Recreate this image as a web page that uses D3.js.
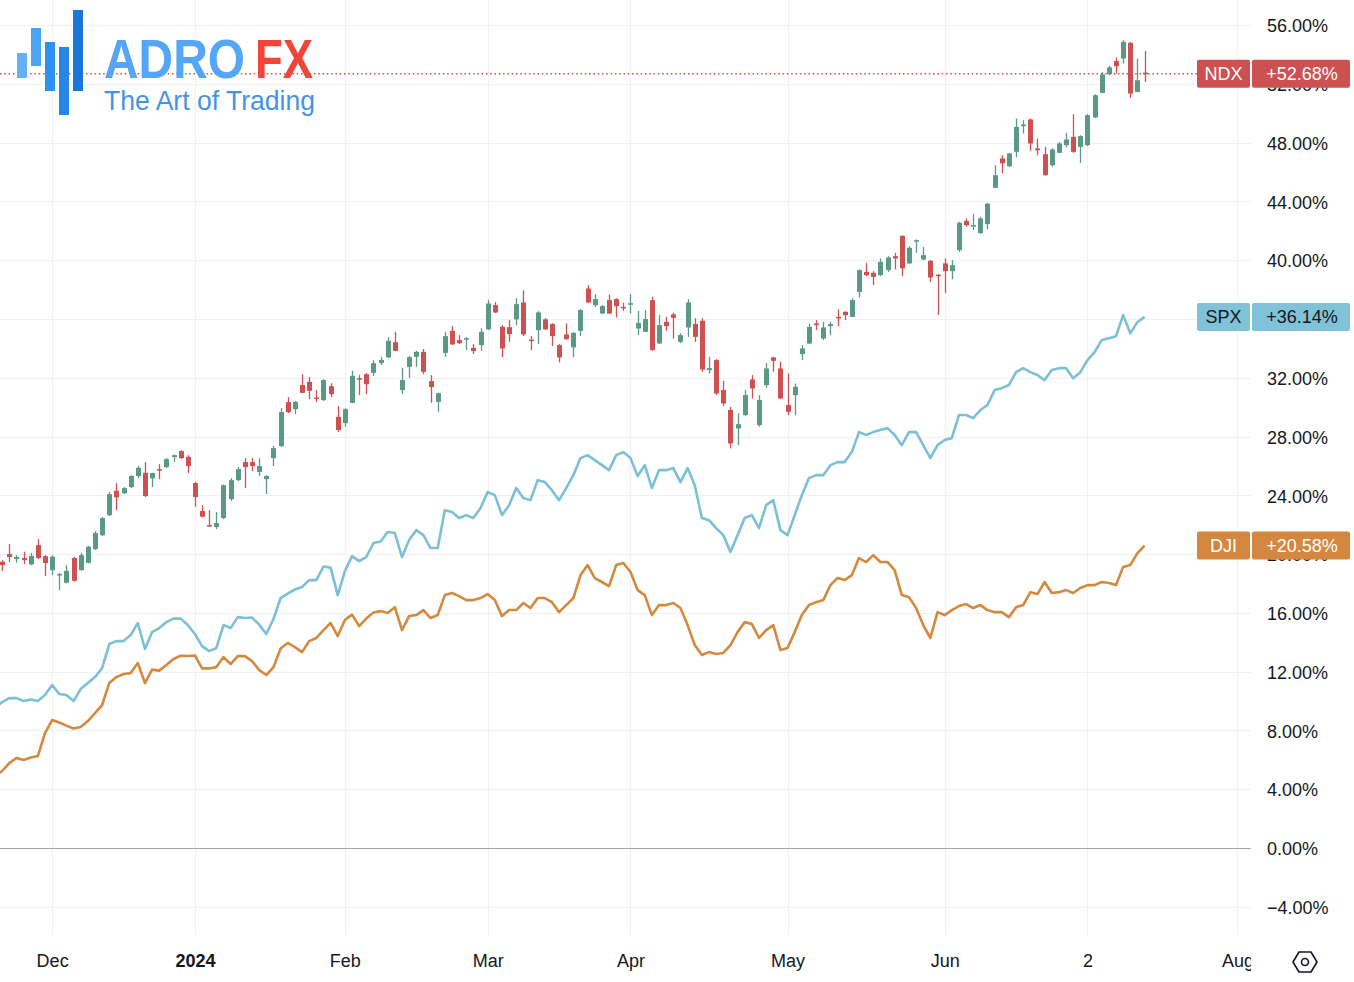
<!DOCTYPE html>
<html>
<head>
<meta charset="utf-8">
<script src="https://cdn.jsdelivr.net/npm/d3@7/dist/d3.min.js"></script>
<style>
  body { margin: 0; background: #fff; }
  svg { display: block; }
  text { font-family: "Liberation Sans", Arial, sans-serif; }
</style>
</head>
<body>
<svg id="chart"></svg>
<script>
// trading days shown on the chart
const dates = [
  "2023-11-20","2023-11-21","2023-11-22","2023-11-24","2023-11-27","2023-11-28","2023-11-29","2023-11-30",
  "2023-12-01","2023-12-04","2023-12-05","2023-12-06","2023-12-07","2023-12-08","2023-12-11","2023-12-12","2023-12-13","2023-12-14",
  "2023-12-15","2023-12-18","2023-12-19","2023-12-20","2023-12-21","2023-12-22","2023-12-26","2023-12-27","2023-12-28","2023-12-29",
  "2024-01-02","2024-01-03","2024-01-04","2024-01-05","2024-01-08","2024-01-09","2024-01-10","2024-01-11","2024-01-12","2024-01-16",
  "2024-01-17","2024-01-18","2024-01-19","2024-01-22","2024-01-23","2024-01-24","2024-01-25","2024-01-26","2024-01-29","2024-01-30","2024-01-31",
  "2024-02-01","2024-02-02","2024-02-05","2024-02-06","2024-02-07","2024-02-08","2024-02-09","2024-02-12","2024-02-13","2024-02-14",
  "2024-02-15","2024-02-16","2024-02-20","2024-02-21","2024-02-22","2024-02-23","2024-02-26","2024-02-27","2024-02-28","2024-02-29",
  "2024-03-01","2024-03-04","2024-03-05","2024-03-06","2024-03-07","2024-03-08","2024-03-11","2024-03-12","2024-03-13","2024-03-14",
  "2024-03-15","2024-03-18","2024-03-19","2024-03-20","2024-03-21","2024-03-22","2024-03-25","2024-03-26","2024-03-27","2024-03-28",
  "2024-04-01","2024-04-02","2024-04-03","2024-04-04","2024-04-05","2024-04-08","2024-04-09","2024-04-10","2024-04-11","2024-04-12",
  "2024-04-15","2024-04-16","2024-04-17","2024-04-18","2024-04-19","2024-04-22","2024-04-23","2024-04-24","2024-04-25","2024-04-26",
  "2024-04-29","2024-04-30",
  "2024-05-01","2024-05-02","2024-05-03","2024-05-06","2024-05-07","2024-05-08","2024-05-09","2024-05-10","2024-05-13","2024-05-14",
  "2024-05-15","2024-05-16","2024-05-17","2024-05-20","2024-05-21","2024-05-22","2024-05-23","2024-05-24","2024-05-28","2024-05-29",
  "2024-05-30","2024-05-31",
  "2024-06-03","2024-06-04","2024-06-05","2024-06-06","2024-06-07","2024-06-10","2024-06-11","2024-06-12","2024-06-13","2024-06-14",
  "2024-06-17","2024-06-18","2024-06-20","2024-06-21","2024-06-24","2024-06-25","2024-06-26","2024-06-27","2024-06-28",
  "2024-07-01","2024-07-02","2024-07-03","2024-07-05","2024-07-08","2024-07-09","2024-07-10","2024-07-11","2024-07-12","2024-07-15"
];
// empty trading days to the right of the last bar
const futureDates = ["2024-07-16","2024-07-17","2024-07-18","2024-07-19","2024-07-22","2024-07-23","2024-07-24",
  "2024-07-25","2024-07-26","2024-07-29","2024-07-30","2024-07-31","2024-08-01"];

// NDX, % change: [open, high, low, close]
const ndx = [
  [18.90,19.50,18.70,19.40],[19.48,19.59,18.84,19.25],[20.00,20.68,19.46,19.80],[19.66,19.93,19.41,19.80],
  [19.73,20.16,19.32,19.59],[19.30,20.07,19.23,19.88],[20.61,21.02,19.66,19.73],[19.86,19.93,18.50,19.39],
  [18.91,19.93,18.57,19.82],[18.55,18.71,17.55,18.64],[18.05,19.25,18.01,18.86],[19.73,19.80,18.12,18.18],
  [18.91,20.09,18.86,19.93],[19.41,20.56,19.37,20.50],[20.34,21.56,20.27,21.43],[21.29,22.52,21.22,22.45],
  [22.65,24.22,22.59,24.08],[24.31,24.83,22.99,23.86],[24.15,24.56,24.08,24.49],[24.56,25.37,24.49,25.31],
  [25.31,25.99,25.17,25.87],[25.53,26.26,23.88,23.95],[25.15,25.54,24.56,25.51],[25.78,26.12,25.10,25.71],
  [25.92,26.53,25.85,26.46],[26.60,26.77,26.28,26.73],[27.01,27.07,26.46,26.53],[26.62,26.73,25.51,25.99],
  [24.83,24.92,23.22,23.88],[22.93,23.33,22.50,22.54],[21.97,22.99,21.87,21.90],[21.84,22.86,21.70,22.11],
  [22.45,24.73,22.38,24.69],[23.74,25.17,23.61,25.03],[25.03,25.92,24.97,25.78],[26.26,26.53,24.49,25.92],
  [26.26,26.53,25.65,25.99],[25.58,26.53,25.31,25.99],[25.10,25.37,24.08,25.31],[26.53,27.35,25.99,27.21],
  [27.35,29.93,27.28,29.66],[30.34,30.68,29.59,29.66],[29.86,30.41,29.52,30.36],[31.50,32.24,30.95,30.97],
  [31.72,32.04,30.54,31.11],[30.65,31.16,30.34,30.58],[30.48,31.90,30.41,31.84],[31.43,31.63,30.68,30.88],
  [29.34,30.07,28.30,28.44],[28.91,29.93,28.66,29.86],[30.29,32.47,30.27,32.13],[31.97,32.18,30.82,31.90],
  [32.24,32.31,30.88,31.56],[32.33,33.20,32.13,32.99],[32.99,33.42,32.86,33.20],[33.38,34.76,33.33,34.51],
  [34.42,35.12,33.81,33.83],[31.16,32.67,30.88,31.84],[32.74,33.47,31.99,33.40],[33.42,33.83,32.74,33.76],
  [33.76,33.95,32.24,32.40],[31.77,32.18,30.29,31.36],[30.36,30.99,29.68,30.95],[33.69,35.12,33.42,34.83],
  [35.19,35.51,34.22,34.27],[34.56,34.90,34.29,34.35],[34.63,34.76,33.88,34.69],[34.03,34.29,33.61,33.81],
  [34.22,35.37,33.83,35.12],[35.29,37.28,35.24,37.05],[36.94,37.14,36.39,36.44],[35.46,35.58,33.40,33.99],
  [35.44,35.92,34.44,34.97],[35.97,37.41,35.58,37.01],[37.12,37.96,34.83,34.95],[34.59,34.83,33.88,34.52],
  [35.24,36.53,34.29,36.44],[35.97,36.05,35.24,35.29],[35.65,35.71,34.15,34.83],[34.22,34.29,33.04,33.38],
  [34.95,35.69,34.56,34.63],[34.06,35.10,33.40,35.05],[35.19,36.67,34.85,36.60],[38.07,38.30,37.07,37.12],
  [36.94,37.69,36.82,37.35],[36.37,36.94,36.33,36.87],[37.28,37.67,36.33,36.37],[37.35,37.41,36.10,36.87],
  [36.82,37.10,36.55,36.75],[37.01,37.69,36.37,37.07],[35.35,36.55,34.90,35.73],[35.12,36.60,35.10,35.99],
  [37.28,37.50,33.84,33.88],[34.33,36.26,34.29,35.58],[35.80,36.14,35.19,35.51],[36.31,36.41,34.67,36.07],
  [34.44,35.03,34.35,34.90],[35.42,37.35,34.78,37.12],[35.65,36.05,34.44,34.78],[35.87,36.05,32.40,32.56],
  [32.52,33.42,32.29,32.65],[33.20,33.27,30.82,30.93],[31.16,31.79,30.07,30.25],[29.80,30.02,27.19,27.53],
  [28.55,29.57,27.41,28.84],[29.46,31.16,29.39,30.82],[31.88,32.18,30.59,31.27],[28.78,30.82,28.66,30.48],
  [31.50,33.01,31.31,32.63],[33.38,33.42,32.40,33.15],[32.63,33.08,30.54,30.59],[30.14,32.29,29.46,29.68],
  [30.82,31.61,29.46,31.38],[33.61,34.22,33.20,33.99],[34.33,35.69,34.29,35.46],[35.69,35.92,35.24,35.58],
  [34.67,35.80,34.56,35.42],[35.51,35.80,34.90,35.65],[36.14,36.65,35.51,36.07],[36.48,36.53,35.92,36.26],
  [36.14,37.41,36.12,37.28],[37.84,39.37,37.46,39.32],[39.20,39.82,38.91,38.98],[39.14,39.25,38.30,38.86],
  [38.98,40.12,38.91,39.88],[39.32,40.27,39.20,40.18],[40.27,40.50,39.37,40.12],[41.65,41.70,38.91,39.44],
  [39.78,40.95,39.73,40.84],[41.31,41.41,40.50,41.36],[40.05,40.90,40.00,40.34],[39.95,40.00,38.52,38.82],
  [39.01,39.05,36.26,38.95],[39.78,40.12,37.78,39.25],[39.25,40.00,38.71,39.66],[40.68,42.61,40.56,42.54],
  [42.67,42.84,42.27,42.38],[42.31,43.13,42.04,42.38],[41.84,42.95,41.80,42.84],[42.45,43.90,42.09,43.84],
  [44.92,46.46,44.90,45.78],[46.92,47.14,45.90,46.58],[46.39,47.30,46.35,47.26],[47.37,49.64,46.99,49.07],
  [49.12,49.52,48.62,49.23],[49.57,49.64,47.44,47.94],[47.60,48.28,47.14,47.48],[47.21,47.71,45.75,45.78],
  [46.46,47.62,46.35,47.53],[47.30,48.03,47.28,47.94],[47.82,48.66,47.67,48.21],[48.39,49.93,47.30,47.37],
  [47.71,48.50,46.62,48.44],[47.82,49.93,47.76,49.86],[49.71,51.29,49.66,51.22],[51.38,52.81,51.36,52.63],
  [52.65,53.22,52.59,53.11],[53.54,53.79,52.70,53.20],[53.72,54.97,53.38,54.85],[54.78,54.85,51.04,51.34],
  [51.45,53.72,51.43,52.24],[52.76,54.24,52.13,52.68]
];

// SPX close, % change
const spx = [
  9.52,9.93,10.20,10.20,10.00,10.10,10.00,10.41,11.09,10.48,
  10.41,10.00,10.82,11.22,11.63,12.24,13.88,14.08,14.08,14.49,
  15.31,13.54,14.69,14.97,15.37,15.61,15.61,15.17,14.56,13.74,
  13.40,13.61,15.17,14.97,15.71,15.65,15.68,15.20,14.56,15.58,
  17.01,17.31,17.59,17.76,18.23,18.23,19.15,19.08,17.21,18.84,
  19.86,19.52,19.80,20.75,20.85,21.50,21.43,19.80,20.95,21.63,
  21.29,20.41,20.41,22.99,22.86,22.45,22.65,22.45,23.13,24.22,
  24.01,22.65,23.33,24.49,23.81,23.67,25.03,24.90,24.35,23.67,
  24.49,25.37,26.53,26.73,26.39,26.05,25.71,26.73,26.94,26.53,
  25.31,26.05,24.49,25.71,25.71,25.85,24.90,25.85,24.69,22.45,
  22.31,21.77,21.29,20.14,21.29,22.45,22.65,21.77,23.33,23.67,
  21.63,21.29,22.65,24.01,25.17,25.37,25.37,26.05,26.26,26.26,
  26.94,28.30,28.10,28.30,28.44,28.57,28.10,27.41,28.30,28.30,
  27.41,26.53,27.41,27.76,27.89,29.46,29.46,29.25,29.80,30.14,
  31.16,31.29,31.50,32.38,32.65,32.38,32.18,31.84,32.52,32.65,
  32.65,31.97,32.38,33.20,33.74,34.56,34.69,34.83,36.26,35.03,
  35.78,36.14
];

// DJI close, % change
const dji = [
  4.90,5.24,5.78,6.12,5.99,6.16,6.26,7.82,8.71,8.54,
  8.33,8.13,8.23,8.64,9.18,9.73,11.22,11.63,11.84,11.90,
  12.59,11.22,12.14,12.07,12.45,12.86,13.08,13.06,13.10,12.22,
  12.22,12.31,12.99,12.52,13.06,13.06,12.72,12.11,11.77,12.31,
  13.57,13.95,13.67,13.33,14.08,14.29,14.83,15.31,14.42,15.51,
  15.88,15.10,15.61,16.02,16.12,15.99,16.39,14.83,15.78,15.85,
  16.19,15.65,15.85,17.21,17.35,17.14,16.87,16.87,17.01,17.28,
  16.87,15.78,16.19,16.19,16.67,16.33,17.01,17.01,16.73,16.05,
  16.53,17.01,18.57,19.25,18.37,18.10,17.82,19.25,19.39,18.78,
  17.55,17.21,15.85,16.53,16.53,16.67,16.33,15.17,13.81,13.13,
  13.33,13.20,13.27,13.81,14.69,15.37,15.24,14.29,14.83,15.17,
  13.47,13.61,14.69,15.85,16.53,16.73,16.87,17.89,18.37,18.23,
  18.57,19.73,19.46,19.93,19.46,19.46,18.91,17.21,17.07,16.33,
  15.17,14.29,16.05,15.85,16.19,16.46,16.60,16.33,16.53,16.19,
  16.05,16.05,15.71,16.39,16.53,17.41,17.28,18.10,17.35,17.41,
  17.55,17.35,17.69,17.89,17.89,18.10,18.03,17.89,19.12,19.25,
  20.07,20.58
];

const tickDates = ["2023-12-01","2024-01-02","2024-02-01","2024-03-01","2024-04-01",
  "2024-05-01","2024-06-03","2024-07-02","2024-08-01"];
const tickLabels = ["Dec","2024","Feb","Mar","Apr","May","Jun","2","Aug"];
const yTicks = [-4,0,4,8,12,16,20,24,28,32,36,40,44,48,52,56];

const width = 1354, height = 982;
const plotRight = 1251, plotBottom = 935;
const upColor = "#5a9a85", downColor = "#cd5151";
const spxColor = "#7cc0d7", djiColor = "#d5893f";

const svg = d3.select("#chart").attr("width", width).attr("height", height);

const x = d3.scalePoint().domain(dates.concat(futureDates)).range([-5, 1237.4]);
const y = d3.scaleLinear().domain([-4, 56]).range([906.8, 25]);

svg.append("clipPath").attr("id", "plot")
  .append("rect").attr("x", 0).attr("y", 0).attr("width", plotRight).attr("height", plotBottom);
svg.append("clipPath").attr("id", "timeaxis")
  .append("rect").attr("x", 0).attr("y", plotBottom).attr("width", plotRight).attr("height", height - plotBottom);

// grid
const grid = svg.append("g").attr("clip-path", "url(#plot)");
grid.selectAll("line.v").data(tickDates).join("line")
  .attr("x1", d => Math.round(x(d)) + 0.5).attr("x2", d => Math.round(x(d)) + 0.5)
  .attr("y1", 0).attr("y2", plotBottom)
  .attr("stroke", "#eff1f4");
grid.selectAll("line.h").data(yTicks.filter(d => d !== 0)).join("line")
  .attr("x1", 0).attr("x2", plotRight)
  .attr("y1", d => Math.round(y(d)) + 0.5).attr("y2", d => Math.round(y(d)) + 0.5)
  .attr("stroke", "#eff1f4");
grid.append("line")
  .attr("x1", 0).attr("x2", plotRight)
  .attr("y1", Math.round(y(0)) + 0.5).attr("y2", Math.round(y(0)) + 0.5)
  .attr("stroke", "#a3a6ad");

// price scale on the right
const yAxis = svg.append("g")
  .attr("transform", "translate(1267,1)")
  .call(d3.axisRight(y).tickValues(yTicks).tickSize(0).tickPadding(0)
    .tickFormat(d => (d < 0 ? "\u2212" : "") + Math.abs(d).toFixed(2) + "%"));
yAxis.select(".domain").remove();
yAxis.selectAll("text").attr("font-size", 18).attr("fill", "#131722")
  .attr("font-family", "Liberation Sans, Arial, sans-serif");

// time scale
const xAxis = svg.append("g")
  .attr("clip-path", "url(#timeaxis)")
  .append("g")
  .attr("transform", "translate(0,954)")
  .call(d3.axisBottom(x).tickValues(tickDates).tickSize(0).tickPadding(0)
    .tickFormat((d, i) => tickLabels[i]));
xAxis.select(".domain").remove();
xAxis.selectAll("text").attr("font-size", 18).attr("fill", "#131722")
  .attr("font-family", "Liberation Sans, Arial, sans-serif")
  .attr("font-weight", (d, i) => tickLabels[i] === "2024" ? "bold" : "normal");

const plot = svg.append("g").attr("clip-path", "url(#plot)");

// comparison lines
const line = d3.line().x((d, i) => x(dates[i])).y(d => y(d));
plot.append("path").datum(dji).attr("d", line)
  .attr("fill", "none").attr("stroke", djiColor).attr("stroke-width", 2.6).attr("stroke-linejoin", "round");
plot.append("path").datum(spx).attr("d", line)
  .attr("fill", "none").attr("stroke", spxColor).attr("stroke-width", 2.6).attr("stroke-linejoin", "round");

// NDX candles
const candles = plot.append("g").selectAll("g").data(ndx).join("g")
  .attr("fill", d => d[3] >= d[0] ? upColor : downColor)
  .attr("stroke", d => d[3] >= d[0] ? upColor : downColor);
candles.append("line")
  .attr("x1", (d, i) => Math.round(x(dates[i])) + 0.5)
  .attr("x2", (d, i) => Math.round(x(dates[i])) + 0.5)
  .attr("y1", d => y(d[1])).attr("y2", d => y(d[2]))
  .attr("stroke-width", 1.3);
candles.append("rect")
  .attr("x", (d, i) => Math.round(x(dates[i])) - 2)
  .attr("width", 5)
  .attr("y", d => y(Math.max(d[0], d[3])))
  .attr("height", d => Math.max(1.5, Math.abs(y(d[0]) - y(d[3]))))
  .attr("stroke", "none");

// last price line for NDX
const ndxLast = ndx[ndx.length - 1][3];
svg.append("line")
  .attr("x1", 0).attr("x2", 1197)
  .attr("y1", y(ndxLast)).attr("y2", y(ndxLast))
  .attr("stroke", downColor).attr("stroke-width", 1.4).attr("stroke-dasharray", "1.5 2.8");

// watermark logo
const logo = svg.append("g");
const logoBars = [[17, 53, 25, "#63b0f3"], [31, 28, 38, "#4ba4f5"], [45, 42, 49, "#2d91ef"],
  [59, 47, 68, "#2887e6"], [73, 10, 81, "#1c76d6"]];
logo.selectAll("rect").data(logoBars).join("rect")
  .attr("x", d => d[0]).attr("y", d => d[1]).attr("width", 10).attr("height", d => d[2])
  .attr("fill", d => d[3]);
logo.append("text").attr("x", 104).attr("y", 78).text("ADRO")
  .attr("font-family", "Lato, 'Open Sans', sans-serif").attr("font-weight", "bold").attr("font-size", 55)
  .attr("textLength", 141).attr("lengthAdjust", "spacingAndGlyphs").attr("fill", "#55a6f6");
logo.append("text").attr("x", 255).attr("y", 78).text("FX")
  .attr("font-family", "Lato, 'Open Sans', sans-serif").attr("font-weight", "bold").attr("font-size", 55)
  .attr("textLength", 58).attr("lengthAdjust", "spacingAndGlyphs").attr("fill", "#f2453a");
logo.append("text").attr("x", 104).attr("y", 110).text("The Art of Trading")
  .attr("font-family", "Lato, 'Open Sans', sans-serif").attr("font-weight", 300).attr("font-size", 28)
  .attr("textLength", 211).attr("lengthAdjust", "spacingAndGlyphs").attr("fill", "#4594e4");

// last value labels
const labelNames = ["NDX", "SPX", "DJI"];
const labelValues = [ndxLast, spx[spx.length - 1], dji[dji.length - 1]];
const labelFill = [downColor, "#80c2d8", "#d3873f"];
const labelText = ["#ffffff", "#131722", "#ffffff"];
const labels = svg.append("g").selectAll("g").data(labelNames).join("g")
  .attr("transform", (d, i) => "translate(0," + y(labelValues[i]) + ")");
labels.append("rect").attr("x", 1197).attr("y", -14).attr("width", 53).attr("height", 28).attr("rx", 2)
  .attr("fill", (d, i) => labelFill[i]);
labels.append("rect").attr("x", 1252).attr("y", -14).attr("width", 98).attr("height", 28).attr("rx", 2)
  .attr("fill", (d, i) => labelFill[i]);
labels.append("text").attr("x", 1223.5).attr("y", 0).attr("dy", "0.35em").attr("text-anchor", "middle")
  .attr("font-size", 18).attr("fill", (d, i) => labelText[i]).text(d => d);
labels.append("text").attr("x", 1302).attr("y", 0).attr("dy", "0.35em").attr("text-anchor", "middle")
  .attr("font-size", 18).attr("fill", (d, i) => labelText[i])
  .text((d, i) => "+" + labelValues[i].toFixed(2) + "%");

// settings icon
const icon = svg.append("g").attr("transform", "translate(1305,962)")
  .attr("fill", "none").attr("stroke", "#131722").attr("stroke-width", 1.6);
icon.append("path").attr("d", "M-12,0 L-6,-10 L6,-10 L12,0 L6,10 L-6,10 Z").attr("stroke-linejoin", "round");
icon.append("circle").attr("r", 3.5);
</script>
</body>
</html>
